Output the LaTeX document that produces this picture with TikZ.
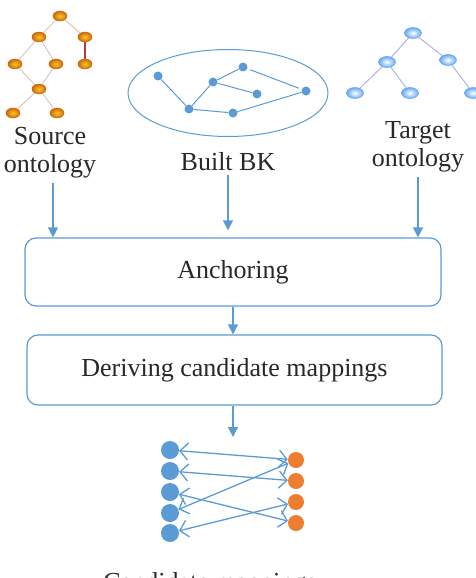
\documentclass[tikz,border=0pt]{standalone}
\usepackage{fontspec}
\setmainfont{Liberation Serif}
\usetikzlibrary{arrows.meta,shapes.geometric}

\definecolor{lineblue}{RGB}{91,155,213}
\definecolor{dotorange}{RGB}{237,125,49}
\definecolor{txtgray}{RGB}{40,40,40}
\definecolor{srcedge}{RGB}{222,196,196}
\definecolor{srcred}{RGB}{185,60,60}
\definecolor{srcgold}{RGB}{250,200,40}
\definecolor{srcrim}{RGB}{205,105,10}
\definecolor{tgtblue}{RGB}{105,170,245}
\definecolor{tgtedge}{RGB}{178,178,235}

\tikzset{
  lbl/.style={text=txtgray, font=\fontsize{26}{28}\selectfont, inner sep=0pt},
  srcnode/.style={ellipse, minimum width=14pt, minimum height=10pt, inner sep=0pt,
    draw=srcrim, line width=0.5pt, shading=radial, inner color=srcgold, outer color=srcrim},
  tgtnode/.style={ellipse, minimum width=17pt, minimum height=11pt, inner sep=0pt,
    draw=tgtblue, line width=0.6pt, shading=radial, inner color=white, outer color=tgtblue},
  bknode/.style={circle, minimum size=9pt, inner sep=0pt, fill=lineblue},
  stepbox/.style={draw=lineblue, line width=1.2pt, rounded corners=11pt, lbl},
  flow/.style={draw=lineblue, line width=1.2pt, -{Triangle[length=10pt,width=10pt]}},
  map/.style={draw=lineblue, line width=1.3pt,
    {Straight Barb[length=8pt,width=17pt]}-{Straight Barb[length=8pt,width=17pt]}},
  bdot/.style={circle, minimum size=18pt, inner sep=0pt, fill=lineblue},
  odot/.style={circle, minimum size=16pt, inner sep=0pt, fill=dotorange}
}

\begin{document}
\begin{tikzpicture}[x=1pt,y=-1pt]
\useasboundingbox (0,0) rectangle (476,578);

% source ontology
\node[srcnode] (s1) at (60,16) {};
\node[srcnode] (s2) at (39,37) {};
\node[srcnode] (s3) at (85,37) {};
\node[srcnode] (s4) at (15,64) {};
\node[srcnode] (s5) at (56,64) {};
\node[srcnode] (s6) at (85,64) {};
\node[srcnode] (s7) at (39,89) {};
\node[srcnode] (s8) at (13,113) {};
\node[srcnode] (s9) at (57,113) {};
\draw[srcedge, line width=1pt]
  (s1) -- (s2)  (s1) -- (s3)  (s2) -- (s4)  (s2) -- (s5)
  (s4) -- (s7)  (s5) -- (s7)  (s7) -- (s8)  (s7) -- (s9);
\draw[srcred, line width=1.2pt] (s3) -- (s6);

% background knowledge
\node[draw=lineblue, line width=1pt, ellipse, minimum width=200pt, minimum height=87pt] (bk) at (228,93) {};
\node[bknode] (k1) at (158,76) {};
\node[bknode] (k2) at (189,109) {};
\node[bknode] (k3) at (213,82) {};
\node[bknode] (k4) at (243,67) {};
\node[bknode] (k5) at (257,94) {};
\node[bknode] (k6) at (233,113) {};
\node[bknode] (k7) at (306,91) {};
\draw[lineblue, line width=1pt, shorten <=3pt, shorten >=3pt]
  (k1) -- (k2)  (k2) -- (k3)  (k3) -- (k4)  (k3) -- (k5)
  (k2) -- (k6)  (k6) -- (k7)  (k4) -- (k7);

% target ontology
\node[tgtnode] (t1) at (413,33) {};
\node[tgtnode] (t2) at (387,62) {};
\node[tgtnode] (t3) at (448,60) {};
\node[tgtnode] (t4) at (355,93) {};
\node[tgtnode] (t5) at (410,93) {};
\node[tgtnode] (t6) at (473,93) {};
\draw[tgtedge, line width=1pt]
  (t1) -- (t2)  (t1) -- (t3)  (t2) -- (t4)  (t2) -- (t5)  (t3) -- (t6);

\node[lbl, align=center, anchor=base] (srclbl) at (50,172) {Source\\ontology};
\node[lbl, anchor=base] (bklbl) at (228,170) {Built BK};
\node[lbl, align=center, anchor=base] (tgtlbl) at (418,166) {Target\\ontology};

% pipeline
\node[stepbox, minimum width=416pt, minimum height=68pt] (anchor) at (233,272) {Anchoring};
\node[stepbox, minimum width=415pt, minimum height=70pt] (derive) at (234.5,370) {Deriving candidate mappings};
\coordinate (mapin) at (233,437);

\draw[flow, shorten <=5pt] ([xshift=3pt]srclbl.south) -- ([xshift=3pt]srclbl.south |- anchor.north);
\draw[flow, shorten <=5pt, shorten >=7pt] (bklbl.south) -- (bklbl.south |- anchor.north);
\draw[flow, shorten <=5pt] (tgtlbl.south) -- (tgtlbl.south |- anchor.north);
\draw[flow] (anchor.south -| mapin) -- (derive.north -| mapin);
\draw[flow] (derive.south -| mapin) -- (mapin);

% candidate mappings
\foreach \i/\y in {1/450,2/471,3/492,4/513,5/533}
  \node[bdot] (b\i) at (170,\y) {};
\foreach \i/\y in {1/460,2/481,3/502,4/523}
  \node[odot] (o\i) at (296,\y) {};
\foreach \a/\b in {1/1,2/2,3/4,4/1,5/3}
  \draw[map] (b\a) -- (o\b);

\node[lbl, anchor=base] (maplbl) at (210,590) {Candidate mappings};
\end{tikzpicture}
\end{document}
